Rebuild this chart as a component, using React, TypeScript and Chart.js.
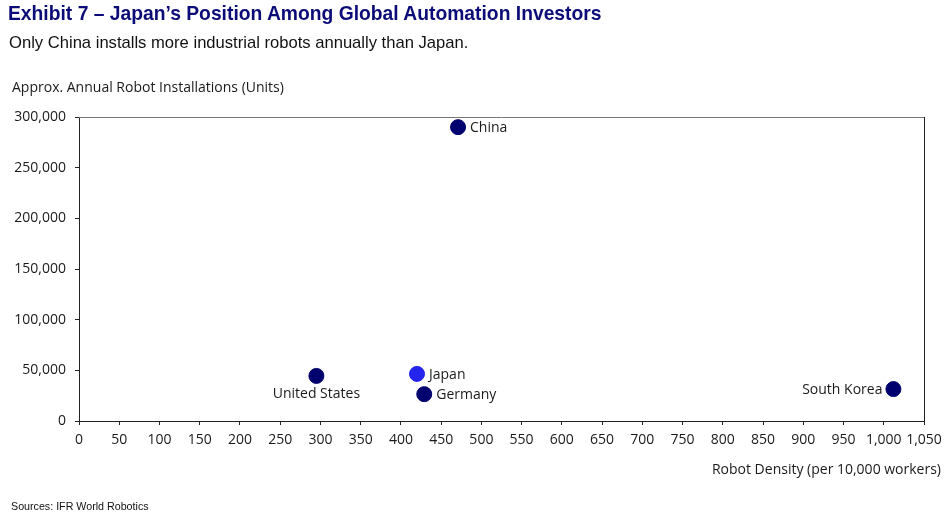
import React, { useEffect, useRef } from "react";
import { Chart, registerables } from "chart.js";

Chart.register(...registerables);

const countries = ["China", "United States", "Japan", "Germany", "South Korea"];
const robotDensity = [471, 295, 420, 429, 1012];
const installations = [290000, 44500, 46500, 26500, 31500];
const pointColors = ["#00006e", "#00006e", "#2424ee", "#00006e", "#00006e"];
const labelSide = ["right", "below", "right", "right", "left"];

const xTickStep = 50;
const yTickStep = 50000;

const FONT = "'Open Sans', sans-serif";

const pointLabels = {
  id: "pointLabels",
  afterDatasetsDraw(chart: any) {
    const ctx = chart.ctx;
    const meta = chart.getDatasetMeta(0);
    ctx.save();
    ctx.font = `14px ${FONT}`;
    ctx.fillStyle = "#1a1a1a";
    meta.data.forEach((pt: any, i: number) => {
      const side = labelSide[i];
      const x = pt.x;
      const y = pt.y;
      if (side === "right") {
        ctx.textAlign = "left";
        ctx.textBaseline = "middle";
        ctx.fillText(countries[i], x + 12, y + 1);
      } else if (side === "left") {
        ctx.textAlign = "right";
        ctx.textBaseline = "middle";
        ctx.fillText(countries[i], x - 11, y + 1);
      } else {
        ctx.textAlign = "center";
        ctx.textBaseline = "middle";
        ctx.fillText(countries[i], x, y + 18);
      }
    });
    ctx.restore();
  },
};

const frame = {
  id: "frame",
  afterDraw(chart: any) {
    const { ctx, chartArea } = chart;
    ctx.save();
    ctx.lineWidth = 1;
    ctx.strokeStyle = "#777777";
    ctx.beginPath();
    ctx.moveTo(chartArea.left, chartArea.top + 0.5);
    ctx.lineTo(chartArea.right, chartArea.top + 0.5);
    ctx.stroke();
    ctx.strokeStyle = "#222222";
    ctx.beginPath();
    ctx.moveTo(chartArea.right + 0.5, chartArea.top);
    ctx.lineTo(chartArea.right + 0.5, chartArea.bottom);
    ctx.stroke();
    ctx.font = `14px ${FONT}`;
    ctx.fillStyle = "#1a1a1a";
    ctx.textAlign = "left";
    ctx.textBaseline = "middle";
    ctx.fillText("Approx. Annual Robot Installations (Units)", 12, 88);
    ctx.textAlign = "right";
    ctx.fillText("Robot Density (per 10,000 workers)", 941, 470);
    ctx.restore();
  },
};

export default function App() {
  const ref = useRef<HTMLCanvasElement | null>(null);
  useEffect(() => {
    if (!ref.current) return;
    const chart = new Chart(ref.current, {
      type: "scatter",
      data: {
        datasets: [
          {
            data: robotDensity.map((x, i) => ({ x, y: installations[i] })),
            backgroundColor: pointColors,
            borderColor: pointColors,
            pointRadius: 7.5,
            pointHoverRadius: 7.5,
          },
        ],
      },
      options: {
        animation: false,
        responsive: false,
        events: [],
        layout: { padding: { left: 0, top: 117, right: 27, bottom: 40 } },
        plugins: { legend: { display: false }, tooltip: { enabled: false } },
        scales: {
          x: {
            type: "linear",
            min: 0,
            max: 1050,
            afterFit: (s: any) => {
              s.height = 59;
            },
            ticks: {
              stepSize: xTickStep,
              autoSkip: false,
              maxRotation: 0,
              padding: 7,
              color: "#1a1a1a",
              font: { family: FONT, size: 14 },
              callback: (v: any) => Number(v).toLocaleString("en-US"),
            },
            grid: { drawOnChartArea: false, tickLength: 4, color: "#222222" },
            border: { color: "#222222" },
          },
          y: {
            type: "linear",
            min: 0,
            max: 300000,
            afterFit: (s: any) => {
              s.width = 79;
            },
            ticks: {
              stepSize: yTickStep,
              padding: 9,
              color: "#1a1a1a",
              font: { family: FONT, size: 14 },
              callback: (v: any) => Number(v).toLocaleString("en-US"),
            },
            grid: { drawOnChartArea: false, tickLength: 4, color: "#222222" },
            border: { color: "#222222" },
          },
        },
      },
      plugins: [pointLabels, frame],
    });
    return () => chart.destroy();
  }, []);

  return (
    <div style={{ position: "fixed", left: 0, top: 0, width: 951, height: 520, background: "#fff", overflow: "hidden" }}>
      <canvas ref={ref} width={951} height={520} style={{ position: "absolute", left: 0, top: 0, width: 951, height: 520 }} />
      <div
        style={{
          position: "absolute",
          left: 8,
          top: 3,
          fontFamily: "'Liberation Sans', Arial, sans-serif",
          fontWeight: "bold",
          fontSize: 19.3,
          color: "#0c0c78",
          whiteSpace: "nowrap",
        }}
      >
        Exhibit 7 – Japan’s Position Among Global Automation Investors
      </div>
      <div
        style={{
          position: "absolute",
          left: 9,
          top: 33,
          fontFamily: "'Liberation Sans', Arial, sans-serif",
          fontSize: 16.6,
          color: "#111",
          whiteSpace: "nowrap",
        }}
      >
        Only China installs more industrial robots annually than Japan.
      </div>
      <div
        style={{
          position: "absolute",
          left: 11,
          top: 500,
          fontFamily: "'Liberation Sans', Arial, sans-serif",
          fontSize: 10.7,
          color: "#111",
          whiteSpace: "nowrap",
        }}
      >
        Sources: IFR World Robotics
      </div>
    </div>
  );
}
